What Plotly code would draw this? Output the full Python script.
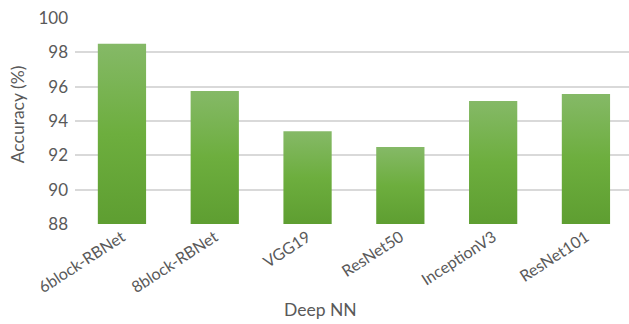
import plotly.graph_objects as go

# Classification accuracy of each deep network
models = ["6block-RBNet", "8block-RBNet", "VGG19", "ResNet50", "InceptionV3", "ResNet101"]
accuracy = [98.5, 95.75, 93.4, 92.48, 95.17, 95.57]
y_ticks = [88, 90, 92, 94, 96, 98, 100]

Y_MIN, Y_MAX = 88, 100
BAR_WIDTH = 0.52
TEXT_COLOR = "#595959"
GRID_COLOR = "#D9D9D9"
FONT = "Lato"
GREEN_SCALE = [[0.0, "#5E9E31"], [0.5, "#6DAE3E"], [1.0, "#85B967"]]

W, H = 629, 324
M_L, M_R, M_T, M_B = 75, 0, 17.5, 100
PLOT_W = W - M_L - M_R
PLOT_H = H - M_T - M_B

fig = go.Figure()

# Each bar is a filled polygon so it can carry a vertical gradient
for i, (name, acc) in enumerate(zip(models, accuracy)):
    x0, x1 = i - BAR_WIDTH / 2, i + BAR_WIDTH / 2
    fig.add_trace(go.Scatter(
        x=[x0, x1, x1, x0, x0],
        y=[Y_MIN, Y_MIN, acc, acc, Y_MIN],
        mode="lines",
        line=dict(width=0),
        fill="toself",
        fillgradient=dict(type="vertical", colorscale=GREEN_SCALE,
                          start=Y_MIN, stop=acc),
        name=name,
        hoverinfo="text",
        text=f"{name}: {acc}%",
        showlegend=False,
    ))

fig.update_layout(
    width=W,
    height=H,
    margin=dict(l=M_L, r=M_R, t=M_T, b=M_B),
    paper_bgcolor="white",
    plot_bgcolor="white",
    font=dict(family=FONT, size=16, color=TEXT_COLOR),
    xaxis=dict(
        range=[-0.506, 5.464],
        tickmode="array",
        tickvals=list(range(len(models))),
        ticktext=models,
        tickangle=-33,
        showgrid=False,
        zeroline=False,
        showline=False,
        ticks="",
        tickfont=dict(size=16, color=TEXT_COLOR),
    ),
    yaxis=dict(
        range=[Y_MIN, Y_MAX],
        tickmode="array",
        tickvals=y_ticks,
        showgrid=True,
        gridcolor=GRID_COLOR,
        gridwidth=1.5,
        zeroline=False,
        showline=False,
        ticks="",
        ticklabelstandoff=6,
        tickfont=dict(size=17, color=TEXT_COLOR),
    ),
    annotations=[
        dict(text="Deep NN", xref="paper", yref="paper",
             x=(320 - M_L) / PLOT_W, y=-(310 - (H - M_B)) / PLOT_H,
             xanchor="center", yanchor="middle", showarrow=False,
             font=dict(size=17.5, color=TEXT_COLOR)),
        dict(text="Accuracy (%)", xref="paper", yref="paper",
             x=-(M_L - 17) / PLOT_W, y=((H - M_B) - 114) / PLOT_H, textangle=-90,
             xanchor="center", yanchor="middle", showarrow=False,
             font=dict(size=17.5, color=TEXT_COLOR)),
    ],
)

fig.write_html("out.html")
